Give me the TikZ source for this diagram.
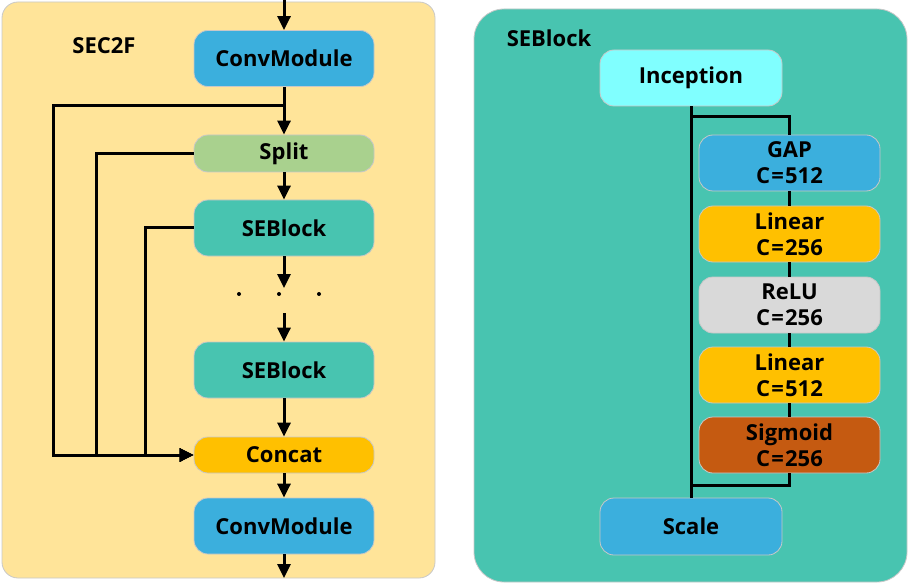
\documentclass[tikz,border=0pt]{standalone}
\usepackage{fontspec}
\setmainfont{Open Sans}
\usetikzlibrary{arrows.meta}
\definecolor{panelY}{HTML}{FFE499}
\definecolor{panelG}{HTML}{48C4B0}
\definecolor{cblue}{HTML}{3BAFDD}
\definecolor{cgreen}{HTML}{A9D18E}
\definecolor{cteal}{HTML}{48C4B0}
\definecolor{corange}{HTML}{FFC000}
\definecolor{ccyan}{HTML}{80FFFF}
\definecolor{cgrey}{HTML}{D9D9D9}
\definecolor{cbrown}{HTML}{C55A11}
\definecolor{edgegrey}{HTML}{C8C8C8}
\newcommand{\ceq}[1]{C\kern1.2pt=\kern1.2pt#1}
\begin{document}
\begin{tikzpicture}[x=1pt,y=-1pt,
  txt/.style={font=\fontsize{22}{26}\selectfont\bfseries},
  blk/.style={txt, draw=edgegrey, line width=0.8pt, rounded corners=14pt, minimum width=180pt, minimum height=56pt, inner sep=0pt, align=center},
  conn/.style={line width=3pt},
  arr/.style={conn, -{Triangle[length=14pt,width=13pt]}},
]
\useasboundingbox (0,0) rectangle (909,585);
% panels
\draw[draw=edgegrey, line width=0.8pt, fill=panelY, rounded corners=16pt] (2,2) rectangle (435,578);
\draw[draw=edgegrey, line width=0.8pt, fill=panelG, rounded corners=30pt] (474,9) rectangle (907,582);
\node[txt] (t1) at (104,46) {SEC2F};
\node[txt] (t2) at (549,38) {SEBlock};
% left column
\node[blk, fill=cblue] (conv1) at (284,58.5) {ConvModule};
\node[blk, fill=cgreen, minimum height=37pt] (split) at (284,153.5) {Split};
\node[blk, fill=cteal] (se1) at (284,228) {SEBlock};
\node[blk, fill=cteal] (se2) at (284,370) {SEBlock};
\node[blk, fill=corange, minimum height=36pt] (concat) at (284,455) {Concat};
\node[blk, fill=cblue] (conv2) at (284,526) {ConvModule};
\coordinate (topin) at (284,0);
\coordinate (botout) at (284,578);
\coordinate (j1) at (284,106);
\coordinate (c1) at (53,300);
\coordinate (c2) at (96,300);
\coordinate (c3) at (145,300);
\coordinate (d1) at (284,288);
\coordinate (d2) at (284,313);
\draw[arr] (topin) -- (conv1.north);
\draw[arr] (conv1.south) -- (split.north);
\draw[arr] (split.south) -- (se1.north);
\draw[arr] (se1.south) -- (d1);
\draw[arr] (d2) -- (se2.north);
\draw[arr] (se2.south) -- (concat.north);
\draw[arr] (concat.south) -- (conv2.north);
\draw[arr] (conv2.south) -- (botout);
\draw[arr] (j1) -| (c1) |- (concat.west);
\draw[arr] (split.west) -| (c2) |- (concat.west);
\draw[arr] (se1.west) -| (c3) |- (concat.west);
\foreach \x in {239,279,319} \fill (\x,294) circle (2pt);
% right column
\node[blk, fill=ccyan, minimum width=182pt] (inc) at (691,78) {Inception};
\node[blk, fill=cblue, minimum width=181pt] (gap) at (789.5,163) {GAP\\\ceq{512}};
\node[blk, fill=corange, minimum width=181pt] (lin1) at (789.5,234) {Linear\\\ceq{256}};
\node[blk, fill=cgrey, minimum width=181pt] (relu) at (789.5,305) {ReLU\\\ceq{256}};
\node[blk, fill=corange, minimum width=181pt] (lin2) at (789.5,375) {Linear\\\ceq{512}};
\node[blk, fill=cbrown, minimum width=181pt] (sig) at (789.5,445) {Sigmoid\\\ceq{256}};
\node[blk, fill=cblue, minimum width=182pt, minimum height=57pt] (scale) at (691,526.5) {Scale};
\coordinate (j2) at (691,117);
\coordinate (j3) at (691,485);
\draw[conn] (inc.south) -- (scale.north);
\draw[conn] (j2) -| (gap.north);
\draw[conn] (gap) -- (lin1);
\draw[conn] (lin1) -- (relu);
\draw[conn] (relu) -- (lin2);
\draw[conn] (lin2) -- (sig);
\draw[conn] (sig.south) |- (j3);
\end{tikzpicture}
\end{document}
